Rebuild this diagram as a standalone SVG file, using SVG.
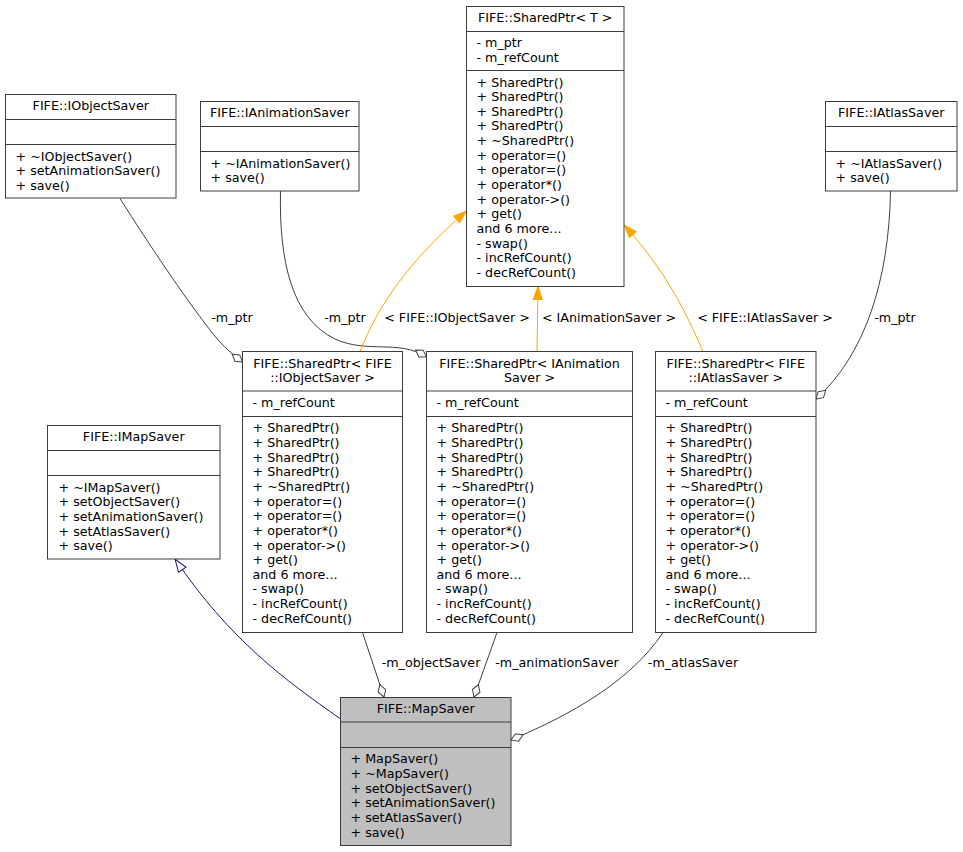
<svg xmlns="http://www.w3.org/2000/svg" width="963" height="852" viewBox="0 0 963 852">
<style>
text{font-family:"DejaVu Sans","Liberation Sans",sans-serif;font-size:12.7px;fill:#000}
.c{text-anchor:middle}
.box{fill:#fff;stroke:#3c3c3c;stroke-width:1}
.grey{fill:#bfbfbf}
.div{stroke:#3c3c3c;stroke-width:1}
.col{fill:none;stroke:#404040;stroke-width:1}
.tpl{fill:none;stroke:#ffa500;stroke-width:1}
.inh{fill:none;stroke:#191970;stroke-width:1}
</style>
<defs>
<marker id="dia" markerUnits="userSpaceOnUse" markerWidth="16" markerHeight="12" viewBox="-1 -6 16 12" refX="13" refY="0" orient="auto">
<path d="M0,0 L6.5,-4 L13,0 L6.5,4 Z" fill="#fff" stroke="#404040" stroke-width="1"/>
</marker>
<marker id="tri" markerUnits="userSpaceOnUse" markerWidth="16" markerHeight="12" viewBox="-1 -6 16 12" refX="13" refY="0" orient="auto">
<path d="M0,-4.5 L13,0 L0,4.5 Z" fill="#ffa500" stroke="#ffa500" stroke-width="1"/>
</marker>
<marker id="otri" markerUnits="userSpaceOnUse" markerWidth="16" markerHeight="12" viewBox="-1 -6 16 12" refX="13" refY="0" orient="auto">
<path d="M0,-4.5 L13,0 L0,4.5 Z" fill="#fff" stroke="#191970" stroke-width="1"/>
</marker>
</defs>

<g id="connectors">
<path class="col" d="M120,198.5 C150,246 183,295 210,330 C220,343 228,351 242.5,362" marker-end="url(#dia)"/>
<text class="c" x="232" y="322">-m_ptr</text>
<path class="col" d="M280.5,191 C279,262 292,318 335,339 C368,354 398,339 426.5,357" marker-end="url(#dia)"/>
<text class="c" x="345" y="322">-m_ptr</text>
<path class="tpl" d="M360,351.5 C378,305 410,260 466.5,211" marker-end="url(#tri)"/>
<text class="c" x="457" y="322">&lt; FIFE::IObjectSaver &gt;</text>
<path class="tpl" d="M537,351.5 L538,286.5" marker-end="url(#tri)"/>
<text class="c" x="609" y="322">&lt; IAnimationSaver &gt;</text>
<path class="tpl" d="M703,351.5 C685,310 665,270 624,225" marker-end="url(#tri)"/>
<text class="c" x="765" y="322">&lt; FIFE::IAtlasSaver &gt;</text>
<path class="col" d="M890.5,191 C889,280 865,355 816,399" marker-end="url(#dia)"/>
<text class="c" x="895" y="322">-m_ptr</text>
<path class="inh" d="M340,718.5 C285,680 230,640 175,559" marker-end="url(#otri)"/>
<path class="col" d="M362.5,632.5 L384,697" marker-end="url(#dia)"/>
<text class="c" x="431" y="667">-m_objectSaver</text>
<path class="col" d="M497,632.5 L474,697" marker-end="url(#dia)"/>
<text class="c" x="557" y="667">-m_animationSaver</text>
<path class="col" d="M663,632.5 C630,682 570,715 511,740" marker-end="url(#dia)"/>
<text class="c" x="693" y="667">-m_atlasSaver</text>
</g>

<g id="SharedPtrT">
<rect class="box" x="466.5" y="6.5" width="157.5" height="280"/>
<line class="div" x1="466.5" y1="31.5" x2="624" y2="31.5"/>
<line class="div" x1="466.5" y1="70.5" x2="624" y2="70.5"/>
<text class="c" x="545.25" y="22">FIFE::SharedPtr&lt; T &gt;</text>
<text x="476.5" y="47">- m_ptr</text>
<text x="476.5" y="61.65">- m_refCount</text>
<text x="476.5" y="86.5">+ SharedPtr()</text>
<text x="476.5" y="101.15">+ SharedPtr()</text>
<text x="476.5" y="115.8">+ SharedPtr()</text>
<text x="476.5" y="130.45">+ SharedPtr()</text>
<text x="476.5" y="145.1">+ ~SharedPtr()</text>
<text x="476.5" y="159.75">+ operator=()</text>
<text x="476.5" y="174.4">+ operator=()</text>
<text x="476.5" y="189.05">+ operator*()</text>
<text x="476.5" y="203.7">+ operator-&gt;()</text>
<text x="476.5" y="218.35">+ get()</text>
<text x="476.5" y="233">and 6 more...</text>
<text x="476.5" y="247.65">- swap()</text>
<text x="476.5" y="262.3">- incRefCount()</text>
<text x="476.5" y="276.95">- decRefCount()</text>
</g>

<g id="IObjectSaver">
<rect class="box" x="5.5" y="94.5" width="170.5" height="103.5"/>
<line class="div" x1="5.5" y1="119.5" x2="176" y2="119.5"/>
<line class="div" x1="5.5" y1="144.5" x2="176" y2="144.5"/>
<text class="c" x="90.75" y="110">FIFE::IObjectSaver</text>
<text x="15.5" y="160.5">+ ~IObjectSaver()</text>
<text x="15.5" y="175.15">+ setAnimationSaver()</text>
<text x="15.5" y="189.8">+ save()</text>
</g>

<g id="IAnimationSaver">
<rect class="box" x="200.5" y="101.5" width="158.5" height="89.5"/>
<line class="div" x1="200.5" y1="126.5" x2="359" y2="126.5"/>
<line class="div" x1="200.5" y1="151.5" x2="359" y2="151.5"/>
<text class="c" x="279.75" y="117">FIFE::IAnimationSaver</text>
<text x="210.5" y="167.5">+ ~IAnimationSaver()</text>
<text x="210.5" y="182.15">+ save()</text>
</g>

<g id="IAtlasSaver">
<rect class="box" x="825.5" y="101.5" width="131.5" height="89.5"/>
<line class="div" x1="825.5" y1="126.5" x2="957" y2="126.5"/>
<line class="div" x1="825.5" y1="151.5" x2="957" y2="151.5"/>
<text class="c" x="891.25" y="117">FIFE::IAtlasSaver</text>
<text x="835.5" y="167.5">+ ~IAtlasSaver()</text>
<text x="835.5" y="182.15">+ save()</text>
</g>

<g id="SharedPtrIObjectSaver">
<rect class="box" x="242.5" y="351.5" width="160" height="281"/>
<line class="div" x1="242.5" y1="391" x2="402.5" y2="391"/>
<line class="div" x1="242.5" y1="416.5" x2="402.5" y2="416.5"/>
<text class="c" x="322.5" y="367.5">FIFE::SharedPtr&lt; FIFE</text>
<text class="c" x="322.5" y="382.15">::IObjectSaver &gt;</text>
<text x="252.5" y="407">- m_refCount</text>
<text x="252.5" y="432.3">+ SharedPtr()</text>
<text x="252.5" y="446.95">+ SharedPtr()</text>
<text x="252.5" y="461.6">+ SharedPtr()</text>
<text x="252.5" y="476.25">+ SharedPtr()</text>
<text x="252.5" y="490.9">+ ~SharedPtr()</text>
<text x="252.5" y="505.55">+ operator=()</text>
<text x="252.5" y="520.2">+ operator=()</text>
<text x="252.5" y="534.85">+ operator*()</text>
<text x="252.5" y="549.5">+ operator-&gt;()</text>
<text x="252.5" y="564.15">+ get()</text>
<text x="252.5" y="578.8">and 6 more...</text>
<text x="252.5" y="593.45">- swap()</text>
<text x="252.5" y="608.1">- incRefCount()</text>
<text x="252.5" y="622.75">- decRefCount()</text>
</g>

<g id="SharedPtrIAnimationSaver">
<rect class="box" x="426.5" y="351.5" width="206" height="281"/>
<line class="div" x1="426.5" y1="391" x2="632.5" y2="391"/>
<line class="div" x1="426.5" y1="416.5" x2="632.5" y2="416.5"/>
<text class="c" x="529.5" y="367.5">FIFE::SharedPtr&lt; IAnimation</text>
<text class="c" x="529.5" y="382.15">Saver &gt;</text>
<text x="436.5" y="407">- m_refCount</text>
<text x="436.5" y="432.3">+ SharedPtr()</text>
<text x="436.5" y="446.95">+ SharedPtr()</text>
<text x="436.5" y="461.6">+ SharedPtr()</text>
<text x="436.5" y="476.25">+ SharedPtr()</text>
<text x="436.5" y="490.9">+ ~SharedPtr()</text>
<text x="436.5" y="505.55">+ operator=()</text>
<text x="436.5" y="520.2">+ operator=()</text>
<text x="436.5" y="534.85">+ operator*()</text>
<text x="436.5" y="549.5">+ operator-&gt;()</text>
<text x="436.5" y="564.15">+ get()</text>
<text x="436.5" y="578.8">and 6 more...</text>
<text x="436.5" y="593.45">- swap()</text>
<text x="436.5" y="608.1">- incRefCount()</text>
<text x="436.5" y="622.75">- decRefCount()</text>
</g>

<g id="SharedPtrIAtlasSaver">
<rect class="box" x="655.5" y="351.5" width="160.5" height="281"/>
<line class="div" x1="655.5" y1="391" x2="816" y2="391"/>
<line class="div" x1="655.5" y1="416.5" x2="816" y2="416.5"/>
<text class="c" x="735.75" y="367.5">FIFE::SharedPtr&lt; FIFE</text>
<text class="c" x="735.75" y="382.15">::IAtlasSaver &gt;</text>
<text x="665.5" y="407">- m_refCount</text>
<text x="665.5" y="432.3">+ SharedPtr()</text>
<text x="665.5" y="446.95">+ SharedPtr()</text>
<text x="665.5" y="461.6">+ SharedPtr()</text>
<text x="665.5" y="476.25">+ SharedPtr()</text>
<text x="665.5" y="490.9">+ ~SharedPtr()</text>
<text x="665.5" y="505.55">+ operator=()</text>
<text x="665.5" y="520.2">+ operator=()</text>
<text x="665.5" y="534.85">+ operator*()</text>
<text x="665.5" y="549.5">+ operator-&gt;()</text>
<text x="665.5" y="564.15">+ get()</text>
<text x="665.5" y="578.8">and 6 more...</text>
<text x="665.5" y="593.45">- swap()</text>
<text x="665.5" y="608.1">- incRefCount()</text>
<text x="665.5" y="622.75">- decRefCount()</text>
</g>

<g id="IMapSaver">
<rect class="box" x="47.5" y="425.5" width="172.5" height="133.5"/>
<line class="div" x1="47.5" y1="450.5" x2="220" y2="450.5"/>
<line class="div" x1="47.5" y1="475.5" x2="220" y2="475.5"/>
<text class="c" x="133.75" y="441">FIFE::IMapSaver</text>
<text x="58.5" y="491.8">+ ~IMapSaver()</text>
<text x="58.5" y="506.45">+ setObjectSaver()</text>
<text x="58.5" y="521.1">+ setAnimationSaver()</text>
<text x="58.5" y="535.75">+ setAtlasSaver()</text>
<text x="58.5" y="550.4">+ save()</text>
</g>

<g id="MapSaver">
<rect class="box grey" x="340.5" y="697.5" width="170.5" height="148"/>
<line class="div" x1="340.5" y1="722" x2="511" y2="722"/>
<line class="div" x1="340.5" y1="747.5" x2="511" y2="747.5"/>
<text class="c" x="425.75" y="713">FIFE::MapSaver</text>
<text x="350.5" y="763.3">+ MapSaver()</text>
<text x="350.5" y="777.95">+ ~MapSaver()</text>
<text x="350.5" y="792.6">+ setObjectSaver()</text>
<text x="350.5" y="807.25">+ setAnimationSaver()</text>
<text x="350.5" y="821.9">+ setAtlasSaver()</text>
<text x="350.5" y="836.55">+ save()</text>
</g>
</svg>
